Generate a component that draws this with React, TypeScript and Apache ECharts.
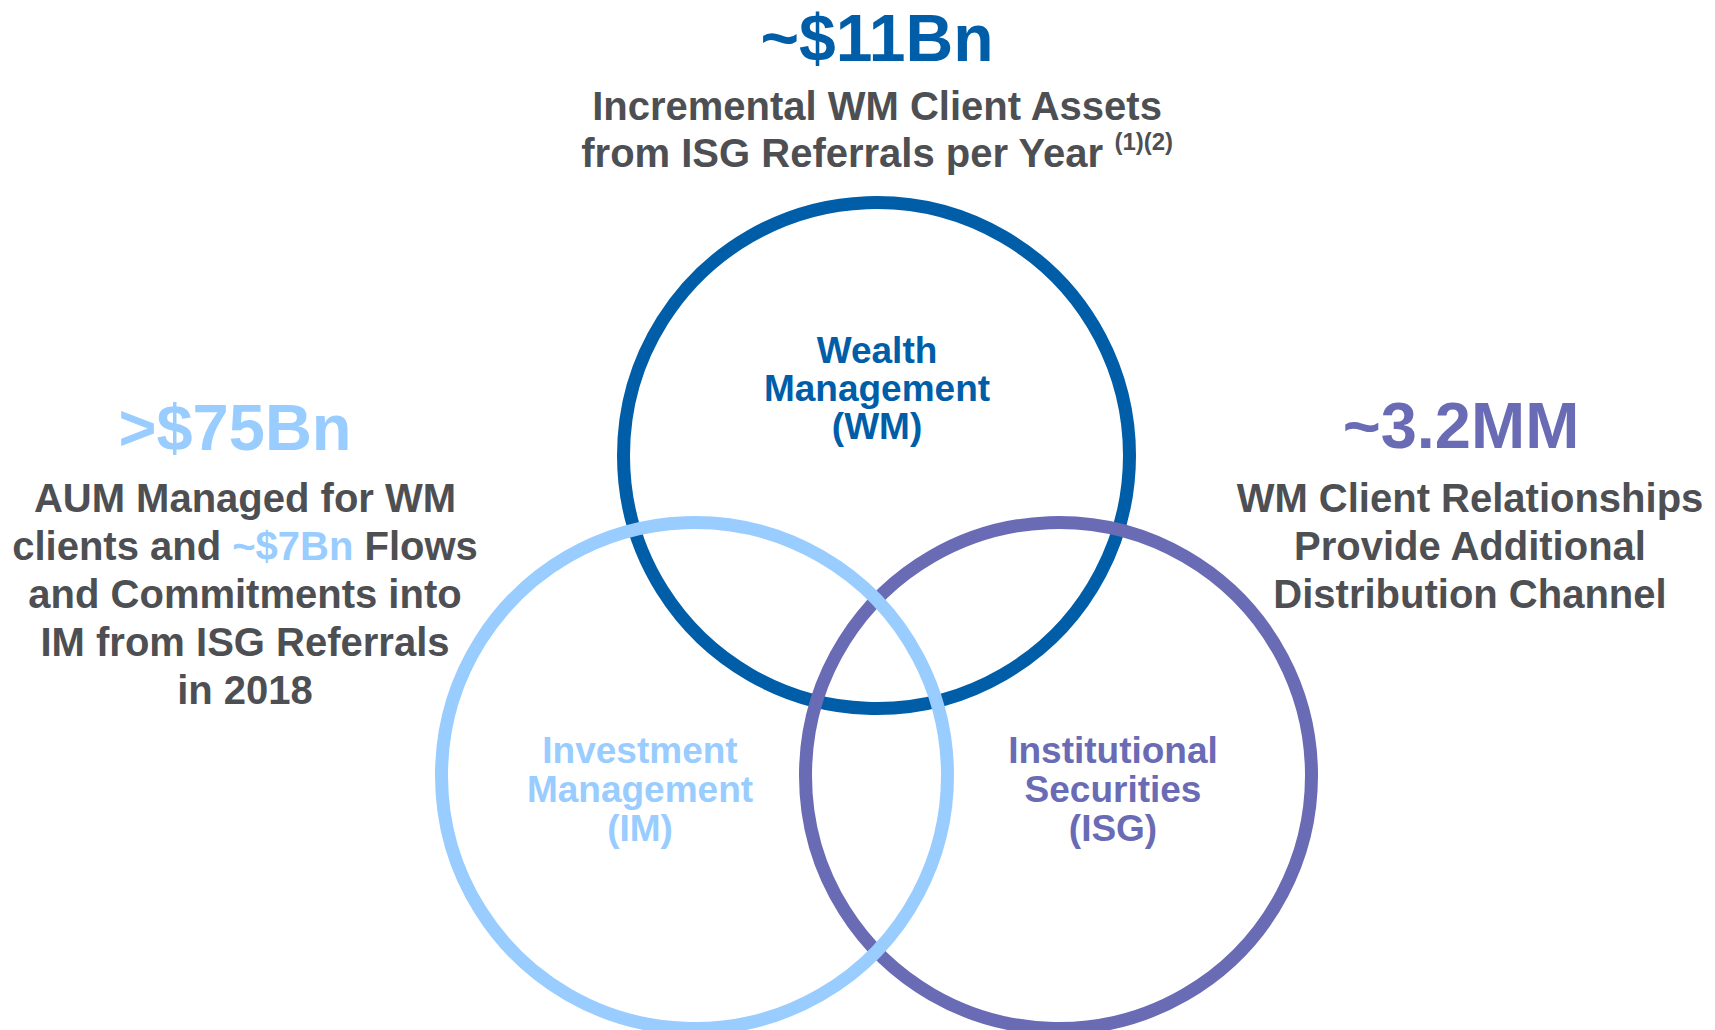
import React, { useEffect, useRef } from "react";
import * as echarts from "echarts";

// ---- Data ----
// Venn circles (drawn in this order: WM, ISG, IM) — centre and radius in chart units
const circleNames = ["Wealth Management (WM)", "Institutional Securities (ISG)", "Investment Management (IM)"];
const circleCenterX = [876.5, 1058.5, 694.5];
const circleCenterY = [455.5, 775.5, 775.5];
const circleRadius = [253, 253, 253];
const circleColors = ["#005EA8", "#6A6BB5", "#99CCFF"];

// Circle labels
const wmLabel = ["Wealth", "Management", "(WM)"];
const imLabel = ["Investment", "Management", "(IM)"];
const isgLabel = ["Institutional", "Securities", "(ISG)"];

// Headline figures
const headlineValues = ["~$11Bn", ">$75Bn", "~3.2MM"];
const topLines = ["Incremental WM Client Assets", "from ISG Referrals per Year"];
const topNote = "(1)(2)";
const leftLines = ["AUM Managed for WM", "clients and ", "~$7Bn", " Flows", "and Commitments into", "IM from ISG Referrals", "in 2018"];
const rightLines = ["WM Client Relationships", "Provide Additional", "Distribution Channel"];

const GRAY = "#4D4F53";
const FONT = "'Liberation Sans', Arial, Helvetica, sans-serif";

export default function App() {
  const ref = useRef<HTMLDivElement>(null);

  useEffect(() => {
    if (!ref.current) return;
    const chart = echarts.init(ref.current, undefined, { renderer: "svg" });

    const tok = (size: number, color: string, lh: number, extra: any = {}) => ({
      fontSize: size,
      fontWeight: "bold",
      fontFamily: FONT,
      fill: color,
      lineHeight: lh,
      ...extra,
    });

    const blockText = (x: number, y: number, text: string, size: number, color: string, lh: number, rich?: any) => ({
      type: "text",
      x,
      y,
      silent: true,
      style: {
        text,
        fontSize: size,
        fontWeight: "bold",
        fontFamily: FONT,
        fill: color,
        lineHeight: lh,
        align: "center",
        verticalAlign: "middle",
        rich,
      },
    });

    const option: any = {
      animation: false,
      backgroundColor: "#ffffff",
      grid: { left: 0, right: 0, top: 0, bottom: 0 },
      xAxis: { type: "value", min: 0, max: 1715, show: false },
      yAxis: { type: "value", min: 0, max: 1030, inverse: true, show: false },
      series: [
        {
          type: "custom",
          name: "Venn",
          coordinateSystem: "cartesian2d",
          silent: true,
          data: circleNames.map((n, i) => ({ name: n, value: [circleCenterX[i], circleCenterY[i], circleRadius[i]] })),
          renderItem: (params: any, api: any) => {
            const c = api.coord([api.value(0), api.value(1)]);
            const r = api.size([api.value(2), 0])[0];
            return {
              type: "circle",
              shape: { cx: c[0], cy: c[1], r },
              style: { fill: "none", stroke: circleColors[params.dataIndex], lineWidth: 13 },
            };
          },
        },
      ],
      graphic: [
        // Headlines
        blockText(877, 38, headlineValues[0], 66, circleColors[0], 70),
        blockText(235, 427, headlineValues[1], 65, circleColors[2], 70),
        blockText(1461, 425, headlineValues[2], 65, circleColors[1], 70),
        // Top paragraph with superscript note
        blockText(
          877,
          129.5,
          `{g|${topLines[0]}}\n{g|${topLines[1]} }{s|${topNote}}`,
          40,
          GRAY,
          47,
          {
            g: tok(40, GRAY, 47),
            s: tok(24, GRAY, 36, { verticalAlign: "top" }),
          }
        ),
        // Left paragraph
        blockText(
          245,
          594,
          `{g|${leftLines[0]}}\n{g|${leftLines[1]}}{b|${leftLines[2]}}{g|${leftLines[3]}}\n{g|${leftLines[4]}}\n{g|${leftLines[5]}}\n{g|${leftLines[6]}}`,
          40,
          GRAY,
          48,
          {
            g: tok(40, GRAY, 48),
            b: tok(40, circleColors[2], 48),
          }
        ),
        // Right paragraph
        blockText(1470, 546, rightLines.join("\n"), 40, GRAY, 48),
        // Circle labels
        blockText(877, 388, wmLabel.join("\n"), 37, circleColors[0], 38),
        blockText(640, 789, imLabel.join("\n"), 37, circleColors[2], 39),
        blockText(1113, 789, isgLabel.join("\n"), 37, circleColors[1], 39),
      ],
    };

    chart.setOption(option);
    return () => chart.dispose();
  }, []);

  return (
    <div
      ref={ref}
      style={{ position: "absolute", left: 0, top: 0, width: 1715, height: 1030, background: "#ffffff" }}
    />
  );
}
